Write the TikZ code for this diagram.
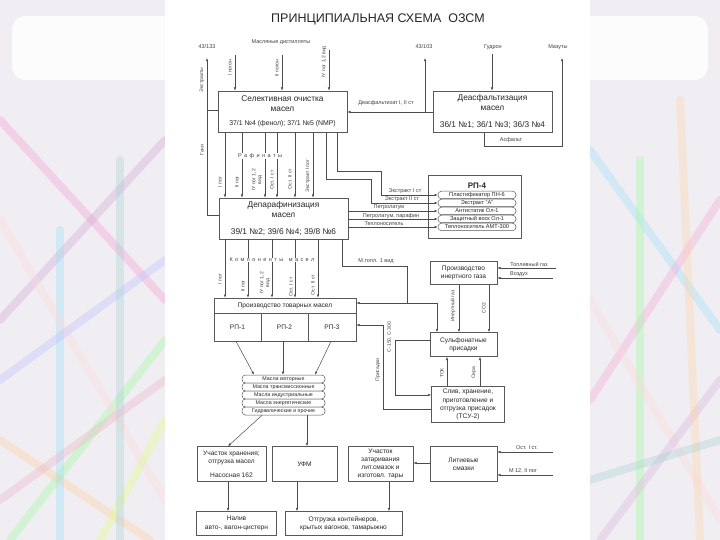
\documentclass[tikz,border=0pt]{standalone}
\usepackage{fontspec}
\setmainfont{Liberation Sans}
\usetikzlibrary{arrows.meta}
\definecolor{bgc}{RGB}{240,238,243}
\begin{document}
\begin{tikzpicture}[x=1pt,y=-1pt,
  ln/.style={draw=black!70, line width=0.5pt},
  arr/.style={ln, -{Latex[length=3.2pt,width=2.4pt]}},
  box/.style={draw=black!65, line width=0.6pt, fill=white, inner sep=0pt, align=center, text=black!85},
  bigf/.style={font=\fontsize{8.3}{10}\selectfont},
  midf/.style={font=\fontsize{6.6}{8.2}\selectfont},
  lab/.style={font=\fontsize{5.5}{6}\selectfont, text=black!75, inner sep=0.3pt},
  vlab/.style={font=\fontsize{5}{5.6}\selectfont, text=black!75, inner sep=0.3pt, rotate=90, align=center},
  itm/.style={draw=black!65, line width=0.5pt, fill=white, rounded corners=3.5pt, inner sep=0pt, text=black!85},
  deco/.style={line width=8pt, opacity=0.35, line cap=round},
]
% ---------- background ----------
\fill[bgc] (0,0) rectangle (720,540);
\begin{scope}
\clip (0,0) rectangle (165,540);
\draw[deco, magenta!40] (0,120) -- (165,300);
\draw[deco, violet!35] (0,320) -- (165,140);
\draw[deco, green!40] (10,540) -- (165,340);
\draw[deco, orange!40] (0,440) -- (150,540);
\draw[deco, cyan!40] (60,540) -- (60,230);
\draw[deco, pink!60] (0,220) -- (165,500);
\draw[deco, lime!50] (100,540) -- (165,420);
\draw[deco, blue!25] (0,380) -- (165,260);
\draw[deco, teal!35] (120,160) -- (120,540);
\draw[deco, purple!30] (0,500) -- (165,380);
\end{scope}
\begin{scope}
\clip (590,0) rectangle (720,540);
\draw[deco, cyan!40] (590,150) -- (720,330);
\draw[deco, magenta!35] (590,400) -- (720,200);
\draw[deco, green!40] (640,540) -- (640,160);
\draw[deco, pink!60] (590,300) -- (720,520);
\draw[deco, violet!30] (600,540) -- (720,380);
\draw[deco, orange!35] (680,100) -- (700,540);
\draw[deco, teal!35] (590,480) -- (720,440);
\end{scope}
\fill[white, opacity=0.85, rounded corners=14pt] (12,16) rectangle (708,80);
\fill[white] (165,0) rectangle (590,540);

% ---------- title ----------
\node[text=black!85, font=\fontsize{12.5}{14}\selectfont] (title) at (378,19) {ПРИНЦИПИАЛЬНАЯ СХЕМА\ \ ОЗСМ};

% ---------- boxes ----------
\node[box, bigf, minimum width=129pt, minimum height=41pt] (sel) at (282.5,111.5)
  {Селективная очистка\\масел\\[4.5pt]{\fontsize{6.9}{8}\selectfont 37/1 №4 (фенол); 37/1 №5 (NMP)}};
\node[box, bigf, minimum width=119pt, minimum height=41pt] (deas) at (492.5,111.5)
  {Деасфальтизация\\масел\\[7pt]36/1 №1; 36/1 №3; 36/3 №4};
\node[box, bigf, minimum width=129pt, minimum height=41pt] (dew) at (283.5,218.5)
  {Депарафинизация\\масел\\[7pt]39/1 №2; 39/6 №4; 39/8 №6};
\node[box, minimum width=93pt, minimum height=63pt] (rp4) at (474.5,206.5) {};
\node[text=black!85, font=\fontsize{8}{9}\selectfont\bfseries] (rp4t) at (477,186) {РП-4};
\foreach \n/\yy/\t in {i1/195/{Пластификатор ПН-6}, i2/203/{Экстракт "А"}, i3/211/{Антистатик Ол-1}, i4/219/{Защитный воск Ол-1}, i5/227/{Теплоноситель АМТ-300}}
  \node[itm, minimum width=78pt, minimum height=7.5pt, font=\fontsize{5.6}{6}\selectfont] (\n) at (477,\yy) {\t};

\node[box, midf, minimum width=142pt, minimum height=15pt] (tovh) at (285,305.5) {Производство товарных масел};
\node[box, midf, minimum width=47pt, minimum height=28pt] (c1) at (237.5,327) {РП-1};
\node[box, midf, minimum width=47pt, minimum height=28pt] (c2) at (284.5,327) {РП-2};
\node[box, midf, minimum width=48pt, minimum height=28pt] (c3) at (332,327) {РП-3};

\node[box, midf, minimum width=67pt, minimum height=23pt] (inert) at (463.5,273) {Производство\\инертного газа};
\node[box, midf, minimum width=67pt, minimum height=24pt] (sulf) at (463.5,344.5) {Сульфонатные\\присадки};
\node[box, midf, minimum width=73pt, minimum height=36pt] (tsu) at (468,404.5) {Слив, хранение,\\приготовление и\\отгрузка присадок\\(ТСУ-2)};

\foreach \n/\yy/\t in {o1/379/{Масла моторные}, o2/387/{Масла трансмиссионные}, o3/395/{Масла индустриальные}, o4/403/{Масла энергетические}, o5/411/{Гидравлические и прочие}}
  \node[itm, minimum width=83pt, minimum height=8pt, font=\fontsize{5.3}{6}\selectfont] (\n) at (283.5,\yy) {\t};

\node[box, midf, minimum width=69pt, minimum height=35pt] (stor) at (231.5,464) {Участок хранения;\\отгрузка масел\\[6pt]Насосная 162};
\node[box, midf, minimum width=65pt, minimum height=35pt] (ufm) at (304.5,464) {УФМ};
\node[box, midf, minimum width=65pt, minimum height=35pt] (zat) at (380.5,464) {Участок\\затаривания\\лит.смазок и\\изготовл. тары};
\node[box, midf, minimum width=67pt, minimum height=35pt] (lit) at (463.5,464) {Литиевые\\смазки};
\node[box, midf, minimum width=80pt, minimum height=24pt] (naliv) at (236.5,523.5) {Налив\\авто-, вагон-цистерн};
\node[box, midf, minimum width=117pt, minimum height=24pt] (otgr) at (343.5,523.5) {Отгрузка контейнеров,\\крытых вагонов, тамарыжно};

% ---------- top inputs ----------
\node[lab] (mdl) at (281,42) {Масляные дистилляты};
\node[lab] (t133) at (207,47) {43/133};
\node[lab] (t103) at (424,47) {43/103};
\node[lab] (gudl) at (493,47) {Гудрон};
\node[lab] (mazl) at (558,47) {Мазуты};
\coordinate (md1) at (235,55);
\coordinate (md2) at (282,55);
\coordinate (md3) at (329,50);
\draw[arr] (md1) -- (sel.north -| md1);
\draw[arr] (md2) -- (sel.north -| md2);
\draw[arr] (md3) -- (sel.north -| md3);
\node[vlab] (lip1) at (230,68) {I погон};
\node[vlab] (lip2) at (277,68) {II погон};
\node[vlab] (lip3) at (324,62) {IY пог 1,2 вид};

% ---------- left: extracts / gach ----------
\coordinate (a133) at (207,58);
\draw[arr] (dew.west |- 0,215) -| (a133);
\draw[ln] (sel.west |- 0,110) -- (207,110);
\node[vlab] (lext) at (202,80) {Экстракты};
\node[vlab] (lgach) at (202,150) {Гачи};

% ---------- raffinates ----------
\foreach \xx in {225,242,265,277,295,313}
  \draw[arr] (sel.south -| \xx,0) -- (dew.north -| \xx,0);
\node[font=\fontsize{5.5}{6}\selectfont, text=black!75, fill=white, inner sep=0.5pt] (lraf) at (260,156) {Р\, а\, ф\, и\, н\, а\, т\, ы};
\node[vlab] (r1) at (220,182) {I пог};
\node[vlab] (r2) at (237,182) {II пог};
\node[vlab] (r3) at (257,180) {IY пог 1,2\\вид};
\node[vlab] (r4) at (272,180) {Ост. I ст};
\node[vlab] (r5) at (290,179) {Ост. II ст};
\node[vlab] (r6) at (308,176) {Экстракт I пог};

% ---------- extracts to RP-4 ----------
\draw[arr] (sel.south -| 337,0) |- (381,171) |- (i1.west);
\draw[arr] (sel.south -| 326,0) |- (371,179) |- (i2.west);
\node[lab] (le1) at (405,191) {Экстракт I ст};
\node[lab] (le2) at (402,199) {Экстракт II ст};
\draw[arr, line width=0.9pt] (dew.east |- i3.west) -- (i3.west);
\draw[arr] (dew.east |- i4.west) -- (i4.west);
\draw[arr] (dew.east |- i5.west) -- (i5.west);
\node[lab] (lp1) at (389,207.5) {Петролатум};
\node[lab] (lp2) at (391,216) {Петролатум, парафин};
\node[lab] (lp3) at (384,223.5) {Теплоноситель};

% ---------- deasphalting ----------
\draw[arr] (deas.west |- 0,112) -- (sel.east |- 0,112);
\node[lab] (lda) at (386,103) {Деасфальтизат I, II ст};
\coordinate (j43) at (425,112);
\coordinate (a103) at (425,58);
\draw[arr] (j43) -- (a103);
\coordinate (gud) at (492,54);
\draw[arr] (gud) -- (deas.north -| gud);
\coordinate (amaz) at (562,58);
\draw[arr] (deas.south -| 484,0) |- (562,146) -- (amaz);
\node[lab] (las) at (511,140) {Асфальт};

% ---------- components of oils ----------
\foreach \xx in {225,248,272,295,318}
  \draw[arr] (dew.south -| \xx,0) -- (tovh.north -| \xx,0);
\node[font=\fontsize{5.5}{6}\selectfont, text=black!75, fill=white, inner sep=0.5pt] (lkomp) at (272,260) {К\, о\, м\, п\, о\, н\, е\, н\, т\, ы\quad м\, а\, с\, е\, л};
\node[vlab] (k1) at (220,279) {I пог};
\node[vlab] (k2) at (243,286) {II пог};
\node[vlab] (k3) at (265,283) {IY пог 1,2\\вид};
\node[vlab] (k4) at (291,287) {Ост. I ст};
\node[vlab] (k5) at (313,285) {Ост. II ст};

% ---------- motor fuel ----------
\coordinate (jm) at (407,303);
\draw[ln] (dew.south -| 342,0) |- (407,266) -- (jm);
\draw[arr] (jm) -- (tovh.east |- jm);
\draw[arr] (jm) -| (sulf.north -| 437,0);
\node[lab] (lmt) at (376,261) {М.топл. 1 вид};

% ---------- inert gas ----------
\coordinate (tg) at (556,268);
\coordinate (vz) at (553,278);
\draw[arr] (tg) -- (inert.east |- tg);
\draw[arr] (vz) -- (inert.east |- vz);
\node[lab] (ltg) at (529,264) {Топливный газ};
\node[lab] (lvz) at (519,274.5) {Воздух};
\draw[arr] (inert.south -| 459,0) -- (sulf.north -| 459,0);
\draw[arr] (inert.south -| 489,0) -- (sulf.north -| 489,0);
\node[vlab] (lig) at (453,306) {Инертный газ};
\node[vlab] (lco) at (484,308) {СО2};

% ---------- additives ----------
\draw[arr] (tsu.north -| 447,0) -- (sulf.south -| 447,0);
\draw[arr] (tsu.north -| 480,0) -- (sulf.south -| 480,0);
\node[vlab] (ltok) at (442,373) {ТОК};
\node[vlab] (lser) at (474,373) {Сера};
\draw[arr] (tsu.west |- 0,409) -| (383,325) -- (c3.east |- 0,325);
\draw[arr] (sulf.west |- 0,340) -| (395,395) -- (tsu.west |- 0,395);
\node[vlab] (lc150) at (389.5,337) {С-150, С-300};
\node[vlab] (lpris) at (378,370) {Присадки};

% ---------- commodity oils ----------
\draw[arr] (c1.south -| 236,0) -- (o1.north -| 254,0);
\draw[arr] (c2.south -| 283,0) -- (o1.north -| 283,0);
\draw[arr] (c3.south -| 331,0) -- (o1.north -| 315,0);
\draw[arr] (o5.south -| 262,0) -- (stor.north -| 228,0);
\draw[arr] (o5.south -| 307,0) -- (ufm.north -| 307,0);

% ---------- bottom ----------
\draw[arr] (stor.south -| 228,0) -- (naliv.north -| 228,0);
\draw[arr] (ufm.south -| 297,0) -- (otgr.north -| 297,0);
\draw[arr] (zat.south -| 389,0) -- (otgr.north -| 389,0);
\draw[arr] (lit.west |- 0,463) -- (zat.east |- 0,463);
\coordinate (os1) at (553,452);
\coordinate (m12) at (553,475);
\draw[arr] (os1) -- (lit.east |- os1);
\draw[arr] (m12) -- (lit.east |- m12);
\node[lab] (los) at (527,448) {Ост. I ст.};
\node[lab] (lm12) at (523,471) {М 12, II пог};
\end{tikzpicture}
\end{document}
